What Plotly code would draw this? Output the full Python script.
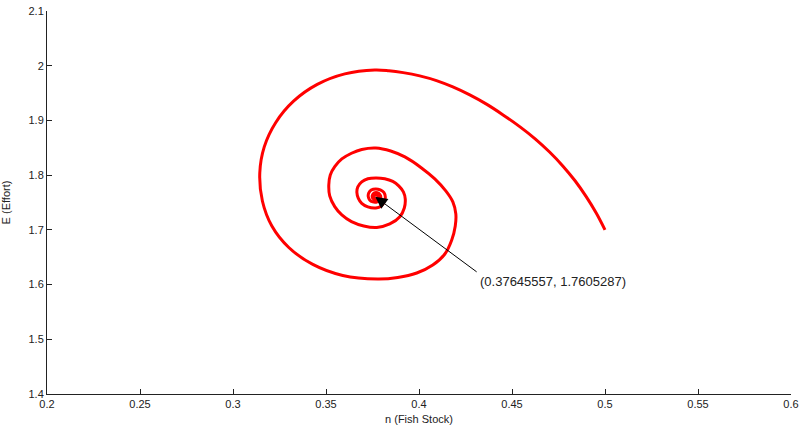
import plotly.graph_objects as go

# Trajectory of (fish stock n, effort E), spiralling into the equilibrium
n_stock = [
    0.5000, 0.4952, 0.4898, 0.4839, 0.4773, 0.4702, 0.4626, 0.4545, 0.4452,
    0.4365, 0.4273, 0.4182, 0.4094, 0.4004, 0.3915, 0.3838, 0.3762,
    0.3601, 0.3453, 0.3327, 0.3230, 0.3168, 0.3144, 0.3158, 0.3209, 0.3300,
    0.3429, 0.3590, 0.3778,
    0.3886, 0.3988, 0.4074, 0.4139, 0.4176, 0.4195, 0.4198, 0.4182, 0.4144,
    0.4085, 0.4010, 0.3924, 0.3848, 0.3768,
    0.3692, 0.3637, 0.3585, 0.3547, 0.3523, 0.3515, 0.3520, 0.3547, 0.3585,
    0.3637, 0.3703, 0.3773, 0.3843, 0.3897, 0.3921, 0.3926, 0.3916, 0.3891,
    0.3859, 0.3816, 0.3768,
    0.3725, 0.3692, 0.3671, 0.3666, 0.3674, 0.3692, 0.3725, 0.3768, 0.3797,
    0.3813, 0.3819, 0.3811, 0.3792, 0.3768,
    0.3743, 0.3730, 0.3727, 0.3735, 0.3752, 0.3770, 0.3787, 0.3795, 0.3789,
    0.3776, 0.3760, 0.3749, 0.3751, 0.3762, 0.3776, 0.3780, 0.3773, 0.3762,
    0.3758, 0.37645557,
]
effort = [
    1.7000, 1.7311, 1.7611, 1.7897, 1.8169, 1.8423, 1.8660, 1.8878, 1.9101,
    1.9293, 1.9466, 1.9612, 1.9728, 1.9814, 1.9874, 1.9909, 1.9923,
    1.9850, 1.9658, 1.9356, 1.8963, 1.8516, 1.8040, 1.7528, 1.7071, 1.6678,
    1.6368, 1.6166, 1.6102,
    1.6130, 1.6212, 1.6358, 1.6559, 1.6815, 1.7071, 1.7291, 1.7510, 1.7711,
    1.7931, 1.8141, 1.8333, 1.8442, 1.8497,
    1.8470, 1.8400, 1.8296, 1.8155, 1.8004, 1.7821, 1.7620, 1.7424, 1.7272,
    1.7150, 1.7071, 1.7044, 1.7108, 1.7241, 1.7400, 1.7565, 1.7693, 1.7803,
    1.7885, 1.7934, 1.7949,
    1.7934, 1.7876, 1.7784, 1.7684, 1.7574, 1.7483, 1.7419, 1.7400, 1.7437,
    1.7510, 1.7601, 1.7684, 1.7729, 1.7748,
    1.7729, 1.7675, 1.7611, 1.7547, 1.7510, 1.7506, 1.7537, 1.7592, 1.7647,
    1.7678, 1.7675, 1.7629, 1.7580, 1.7556, 1.7569, 1.7605, 1.7633, 1.7629,
    1.7598, 1.7605287,
]

eq_n = 0.37645557
eq_E = 1.7605287
label_text = "(0.37645557, 1.7605287)"

x_ticks = [0.2, 0.25, 0.3, 0.35, 0.4, 0.45, 0.5, 0.55, 0.6]
x_tick_text = ["0.2", "0.25", "0.3", "0.35", "0.4", "0.45", "0.5", "0.55", "0.6"]
y_ticks = [1.4, 1.5, 1.6, 1.7, 1.8, 1.9, 2.0, 2.1]
y_tick_text = ["1.4", "1.5", "1.6", "1.7", "1.8", "1.9", "2", "2.1"]

font_family = "Liberation Sans, Arial, Helvetica, sans-serif"
ink = "#222222"

fig = go.Figure()
fig.add_trace(go.Scatter(
    x=n_stock, y=effort, mode="lines",
    line=dict(color="#ff0000", width=3, shape="spline", smoothing=1.0),
    showlegend=False, hoverinfo="skip",
))

# Arrow pointing at the equilibrium
fig.add_annotation(
    x=eq_n, y=eq_E, ax=0.4318, ay=1.6212,
    xref="x", yref="y", axref="x", ayref="y",
    text="", showarrow=True,
    arrowhead=2, arrowsize=2.4, arrowwidth=1, arrowcolor="#000000",
)
# Equilibrium coordinates label
fig.add_annotation(
    x=0.4318, y=1.6048, xref="x", yref="y",
    text=label_text, showarrow=False,
    xanchor="left", yanchor="middle",
    font=dict(family=font_family, size=13, color=ink),
)

axis_common = dict(
    showline=True, linecolor=ink, linewidth=1, mirror=False,
    ticks="inside", ticklen=5, tickcolor=ink, tickwidth=1,
    showgrid=False, zeroline=False, automargin=False,
    tickfont=dict(family=font_family, size=11, color=ink),
)

fig.update_xaxes(
    range=[0.2, 0.6], tickvals=x_ticks, ticktext=x_tick_text,
    title=dict(text="n (Fish Stock)",
               font=dict(family=font_family, size=11, color=ink)),
    **axis_common,
)
fig.update_yaxes(
    range=[1.4, 2.1], tickvals=y_ticks, ticktext=y_tick_text,
    title=dict(text="E (Effort)",
               font=dict(family=font_family, size=11, color=ink)),
    **axis_common,
)

fig.update_layout(
    width=803, height=425,
    margin=dict(l=47, r=12, t=11, b=31, pad=0),
    plot_bgcolor="white", paper_bgcolor="white",
)

fig.write_html("out.html")
